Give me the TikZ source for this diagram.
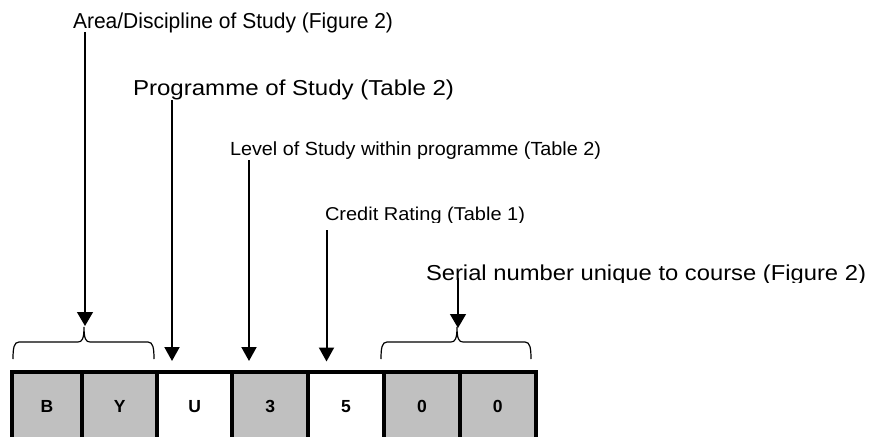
\documentclass[tikz,border=0pt]{standalone}
\usepackage{fontspec}
\usepackage{graphicx}
\setmainfont{Liberation Sans}
\usetikzlibrary{arrows.meta}
\definecolor{cellgray}{RGB}{192,192,192}
\newcommand{\fitw}[3]{\resizebox{#1pt}{\height}{\fontsize{#2}{#2}\selectfont #3}}
\newcommand{\mybrace}[3]{%
  \draw[brc] (#1,359) .. controls (#1,348) and (#1+1,342) .. (#1+6,342)
    -- (#2-6,342) .. controls (#2-2,342) and (#2,339) .. (#2,327)
    .. controls (#2,339) and (#2+2,342) .. (#2+6,342)
    -- (#3-6,342) .. controls (#3-1,342) and (#3,348) .. (#3,359);}
\tikzset{
  lbl/.style={anchor=base west, inner sep=0pt, outer sep=0pt},
  cellbox/.style={draw=black, line width=4pt, anchor=north west, inner sep=0pt,
    minimum height=70pt, font=\fontsize{17.5}{17.5}\selectfont\bfseries},
  thinarr/.style={line width=1.3pt, -{Triangle[length=14pt,width=16pt]}},
  thickarr/.style={line width=2pt, -{Triangle[length=14pt,width=15pt]}},
  brc/.style={line width=1.2pt}
}
\begin{document}
\begin{tikzpicture}[x=1pt,y=-1pt]
\useasboundingbox (0,0) rectangle (872,436);
\clip (0,0) rectangle (872,436);
\fill[white] (0,0) rectangle (872,436);
% cells
\node[cellbox, fill=cellgray, minimum width=70.7pt] (c1) at (9.5,369.5) {B};
\node[cellbox, fill=cellgray, minimum width=75.1pt] (c2) at (80.2,369.5) {Y};
\node[cellbox, fill=white, minimum width=75pt] (c3) at (155.3,369.5) {U};
\node[cellbox, fill=cellgray, minimum width=75.7pt] (c4) at (230.3,369.5) {3};
\node[cellbox, fill=white, minimum width=76pt] (c5) at (306,369.5) {5};
\node[cellbox, fill=cellgray, minimum width=75.8pt] (c6) at (382,369.5) {0};
\node[cellbox, fill=cellgray, minimum width=75.7pt] (c7) at (457.8,369.5) {0};
% labels
\node[lbl] (area) at (73,28.8) {\fitw{320}{21.6}{Area/Discipline of Study (Figure 2)}};
\node[lbl] (prog) at (133,95.5) {\fitw{321}{21.6}{Programme of Study (Table 2)}};
\node[lbl] (level) at (230,155) {\fitw{371}{19}{Level of Study within programme (Table 2)}};
\begin{scope}
\clip (300,190) rectangle (600,222);
\node[lbl] (credit) at (325,220) {\fitw{200}{18.6}{Credit Rating (Table 1)}};
\end{scope}
\begin{scope}
\clip (400,250) rectangle (872,282.5);
\node[lbl] (serial) at (426,280) {\fitw{440}{21.6}{Serial number unique to course (Figure 2)}};
\end{scope}
% arrow ends
\coordinate (area-s) at (85,32);
\coordinate (area-t) at (85,326);
\coordinate (prog-s) at (172,100);
\coordinate (prog-t) at (172,361);
\coordinate (level-s) at (249,160);
\coordinate (level-t) at (249,361);
\coordinate (credit-s) at (326.5,230);
\coordinate (credit-t) at (326.5,361.5);
\coordinate (serial-s) at (458,278);
\coordinate (serial-t) at (458,328);
\draw[thinarr] (area-s) -- (area-t);
\draw[thickarr] (prog-s) -- (prog-t);
\draw[thickarr] (level-s) -- (level-t);
\draw[thickarr] (credit-s) -- (credit-t);
\draw[thinarr] (serial-s) -- (serial-t);
% braces
\mybrace{13}{84}{154}
\mybrace{381}{457}{531}
\end{tikzpicture}
\end{document}
